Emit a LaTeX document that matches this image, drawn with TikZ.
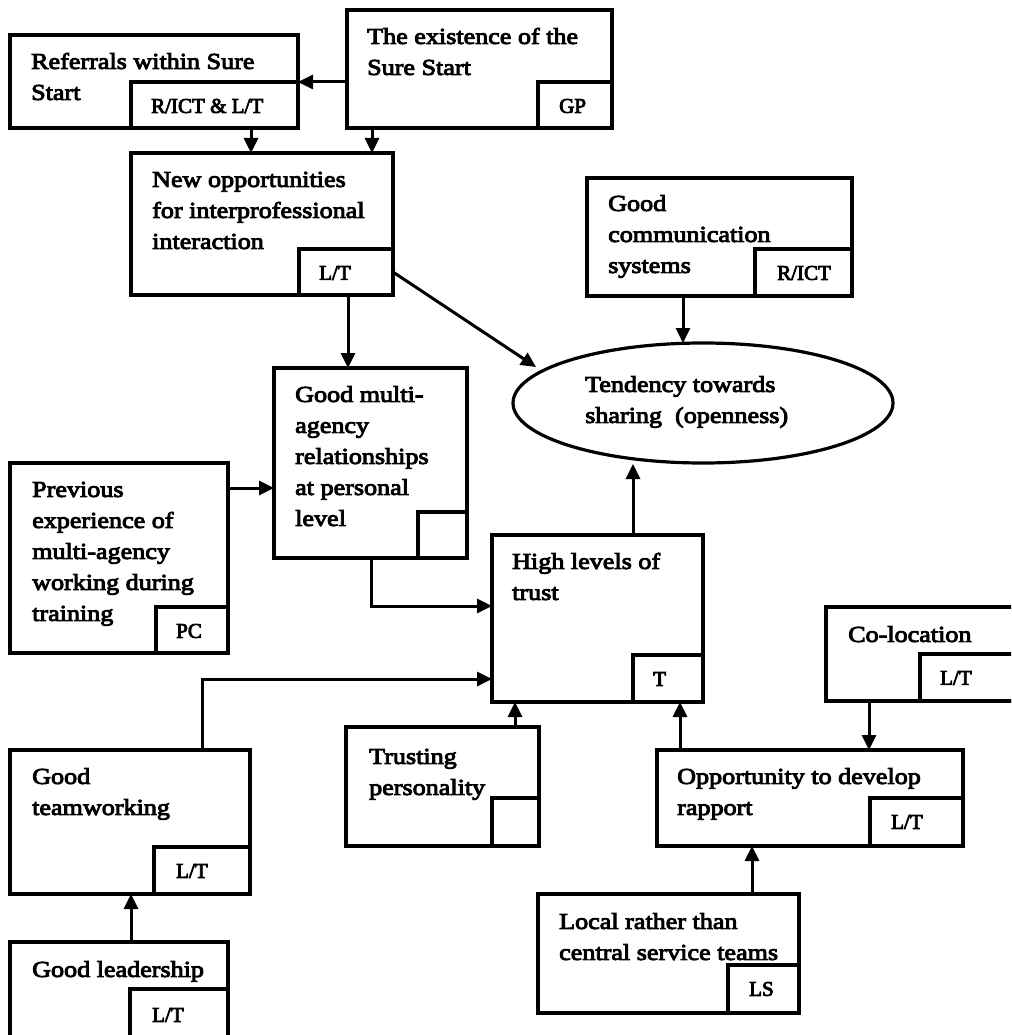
\documentclass[tikz,border=0pt]{standalone}
\usepackage{fontspec}
\setmainfont{Liberation Serif}[FakeStretch=1.15,RawFeature={embolden=4}]
\newfontfamily\tagfamily{Liberation Serif}[RawFeature={embolden=4}]
\usetikzlibrary{arrows.meta,calc,shapes.geometric}
\newcommand{\mainfnt}{\fontsize{22.7}{31}\selectfont}
\newcommand{\tagfnt}{\tagfamily\fontsize{21}{26}\selectfont}
\begin{document}
\begin{tikzpicture}[x=1pt,y=-1pt,
  box/.style={draw, line width=3.4pt, inner sep=0pt, outer sep=0pt, anchor=north west},
  tagbox/.style={draw, line width=3.4pt, inner sep=0pt, outer sep=0pt, anchor=south east},
  txt/.style={anchor=north west, align=left, inner sep=0pt, font=\mainfnt},
  tagtxt/.style={anchor=west, inner sep=0pt, font=\tagfnt},
  arr/.style={line width=3pt, -{Triangle[length=15pt,width=14pt]}}]
\useasboundingbox (0,0) rectangle (1011,1035);
\clip (0,0) rectangle (1011,1035);

% boxes: main rectangle, source tag in its lower right corner, text
\node[box, minimum width=288pt, minimum height=93pt] (ref) at (10,35) {};
\node[tagbox, minimum width=167pt, minimum height=46pt] (refTag) at (ref.south east) {};
\node[txt] (refText) at ($(ref.north west)+(21,12)$) {\strut Referrals within Sure\\Start};
\node[tagtxt] (refTagText) at ($(refTag.north west)+(20,24)$) {R/ICT \& L/T};

\node[box, minimum width=265pt, minimum height=118pt] (exist) at (347,10) {};
\node[tagbox, minimum width=74pt, minimum height=46pt] (existTag) at (exist.south east) {};
\node[txt] (existText) at ($(exist.north west)+(20,12)$) {\strut The existence of the\\Sure Start};
\node[tagtxt] (existTagText) at ($(existTag.north west)+(21,24)$) {GP};

\node[box, minimum width=262pt, minimum height=142pt] (newopp) at (131,153) {};
\node[tagbox, minimum width=94pt, minimum height=46pt] (newoppTag) at (newopp.south east) {};
\node[txt] (newoppText) at ($(newopp.north west)+(21,12)$) {\strut New opportunities\\for interprofessional\\interaction};
\node[tagtxt] (newoppTagText) at ($(newoppTag.north west)+(20,24)$) {L/T};

\node[box, minimum width=265pt, minimum height=118pt] (comm) at (587,178) {};
\node[tagbox, minimum width=97pt, minimum height=47pt] (commTag) at (comm.south east) {};
\node[txt] (commText) at ($(comm.north west)+(21,11)$) {\strut Good\\communication\\systems};
\node[tagtxt] (commTagText) at ($(commTag.north west)+(22,24)$) {R/ICT};

\node[box, minimum width=193pt, minimum height=190pt] (multi) at (274,368) {};
\node[tagbox, minimum width=49pt, minimum height=46pt] (multiTag) at (multi.south east) {};
\node[txt] (multiText) at ($(multi.north west)+(21,12)$) {\strut Good multi-\\agency\\relationships\\at personal\\level};

\node[box, minimum width=218pt, minimum height=190pt] (prev) at (10,463) {};
\node[tagbox, minimum width=72pt, minimum height=46pt] (prevTag) at (prev.south east) {};
\node[txt] (prevText) at ($(prev.north west)+(22,12)$) {\strut Previous\\experience of\\multi-agency\\working during\\training};
\node[tagtxt] (prevTagText) at ($(prevTag.north west)+(20,24)$) {PC};

\node[box, minimum width=211pt, minimum height=167pt] (trust) at (492,535) {};
\node[tagbox, minimum width=70pt, minimum height=47pt] (trustTag) at (trust.south east) {};
\node[txt] (trustText) at ($(trust.north west)+(20,12)$) {\strut High levels of\\trust};
\node[tagtxt] (trustTagText) at ($(trustTag.north west)+(20,24)$) {T};

\node[box, minimum width=230pt, minimum height=94pt] (coloc) at (826,607) {};
\node[tagbox, minimum width=136pt, minimum height=47pt] (colocTag) at (coloc.south east) {};
\node[txt] (colocText) at ($(coloc.north west)+(22,13)$) {\strut Co-location};
\node[tagtxt] (colocTagText) at ($(colocTag.north west)+(20,24)$) {L/T};

\node[box, minimum width=306pt, minimum height=96pt] (opp) at (657,750) {};
\node[tagbox, minimum width=93pt, minimum height=48pt] (oppTag) at (opp.south east) {};
\node[txt] (oppText) at ($(opp.north west)+(20,12)$) {\strut Opportunity to develop\\rapport};
\node[tagtxt] (oppTagText) at ($(oppTag.north west)+(21,24)$) {L/T};

\node[box, minimum width=261pt, minimum height=119pt] (local) at (538,894) {};
\node[tagbox, minimum width=71pt, minimum height=48pt] (localTag) at (local.south east) {};
\node[txt] (localText) at ($(local.north west)+(21,13)$) {\strut Local rather than\\central service teams};
\node[tagtxt] (localTagText) at ($(localTag.north west)+(21,24)$) {LS};

\node[box, minimum width=193pt, minimum height=119pt] (trusting) at (346,727) {};
\node[tagbox, minimum width=47pt, minimum height=48pt] (trustingTag) at (trusting.south east) {};
\node[txt] (trustingText) at ($(trusting.north west)+(23,15)$) {\strut Trusting\\personality};

\node[box, minimum width=240pt, minimum height=144pt] (team) at (10,750) {};
\node[tagbox, minimum width=96pt, minimum height=47pt] (teamTag) at (team.south east) {};
\node[txt] (teamText) at ($(team.north west)+(22,12)$) {\strut Good\\teamworking};
\node[tagtxt] (teamTagText) at ($(teamTag.north west)+(22,24)$) {L/T};

\node[box, minimum width=218pt, minimum height=120pt] (lead) at (10,942) {};
\node[tagbox, minimum width=98pt, minimum height=73pt] (leadTag) at (lead.south east) {};
\node[txt] (leadText) at ($(lead.north west)+(22,13)$) {\strut Good leadership};
\node[tagtxt] (leadTagText) at ($(leadTag.north west)+(22,26)$) {L/T};

% central outcome
\node[draw, ellipse, line width=3.2pt, inner sep=0pt, outer sep=0pt,
      minimum width=380pt, minimum height=120pt] (share) at (703,403) {};
\node[txt] (shareText) at (585,370) {\strut Tendency towards\\sharing\ \ (openness)};
\coordinate (shareNW) at (536,367);

% connectors
\draw[arr] (exist.west |- refTag.north) -- (ref.east |- refTag.north);
\draw[arr] (ref.south -| 251,0) -- (newopp.north -| 251,0);
\draw[arr] (exist.south -| 372,0) -- (newopp.north -| 372,0);
\draw[arr] (newoppTag.east) -- (shareNW);
\draw[arr] (newopp.south -| 348,0) -- (multi.north -| 348,0);
\draw[arr] (comm.south -| 683,0) -- (share.north -| 683,0);
\draw[arr] (prev.east |- 0,488) -- (multi.west |- 0,488);
\draw[arr] (multi.south -| 371,0) |- (trust.west |- 0,606);
\draw[arr] (team.north -| 202,0) |- (trust.west |- 0,679);
\draw[arr] (trust.north -| 633,0) -- (633,464);
\draw[arr] (trusting.north -| 515,0) -- (trust.south -| 515,0);
\draw[arr] (opp.north -| 680,0) -- (trust.south -| 680,0);
\draw[arr] (coloc.south -| 869,0) -- (opp.north -| 869,0);
\draw[arr] (local.north -| 752,0) -- (opp.south -| 752,0);
\draw[arr] (lead.north -| 131,0) -- (team.south -| 131,0);
\end{tikzpicture}
\end{document}
